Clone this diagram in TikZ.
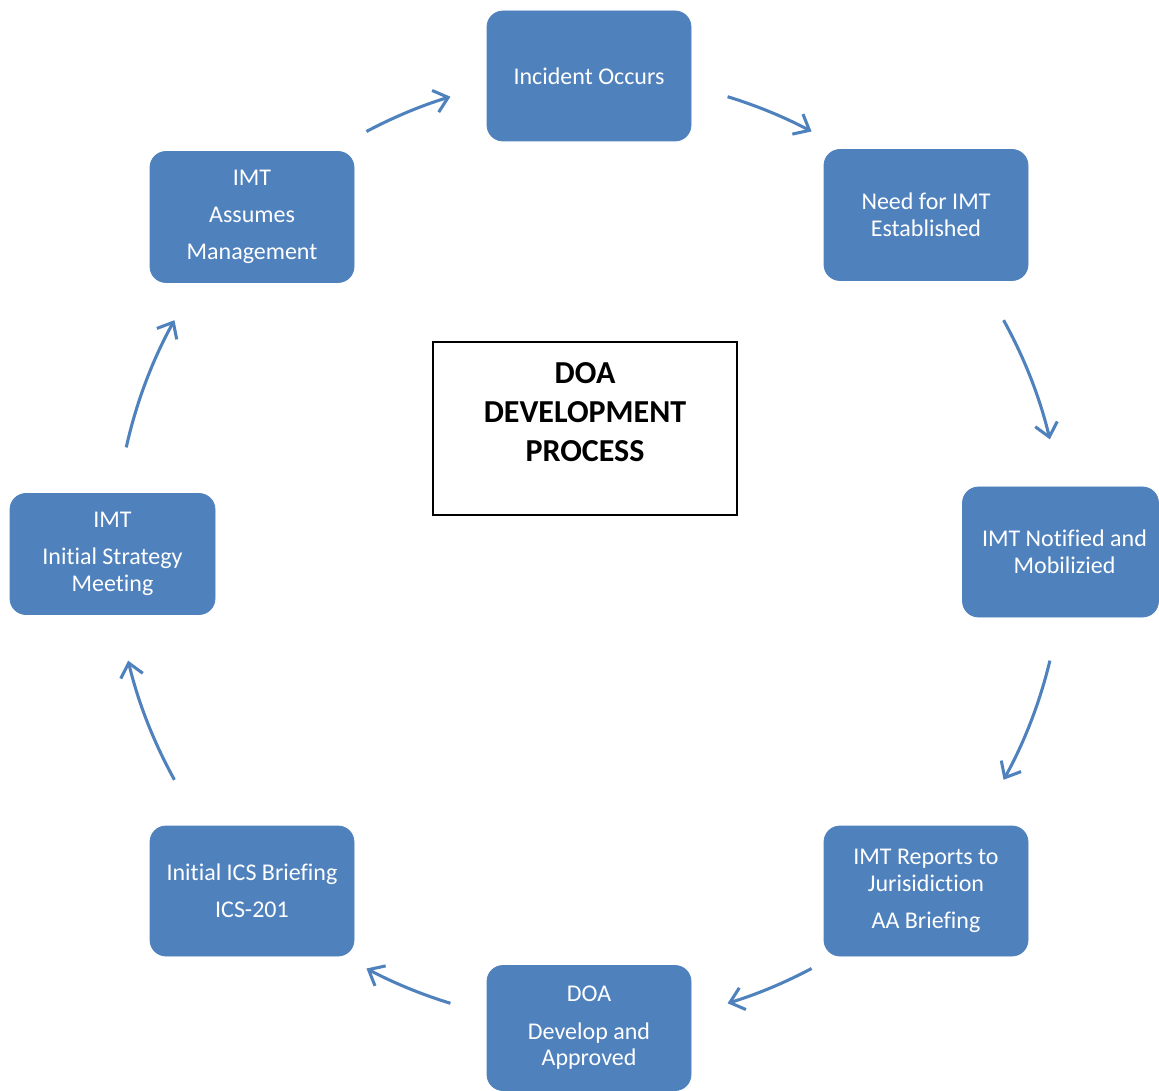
\documentclass[tikz,border=0pt]{standalone}
\usepackage{fontspec}
\setmainfont{Carlito}[Ligatures=CommonOff]
\usetikzlibrary{arrows.meta}
\definecolor{boxblue}{HTML}{4F81BD}
\begin{document}
\begin{tikzpicture}[x=0.75pt,y=0.75pt,
  procbox/.style={draw=boxblue,fill=boxblue,rounded corners=12pt,text=white,
    align=center,font=\fontsize{18pt}{20pt}\selectfont,inner sep=0pt,line width=0.6pt},
  titlebox/.style={draw=black,line width=1.1pt,fill=white,inner sep=0pt},
  titletext/.style={align=center,font=\fontsize{24pt}{29.25pt}\selectfont\bfseries,inner sep=0pt},
  cyclearrow/.style={draw=boxblue,line width=2.3pt,-{Straight Barb[length=10pt,width=17pt]}}]
\useasboundingbox (0,0) rectangle (1159,1090);

% process boxes
\node[procbox,minimum width=153pt,minimum height=97.5pt] (b1) at (589,1014) {Incident Occurs};
\node[procbox,minimum width=153pt,minimum height=98.25pt] (b2) at (926,875) {Need for IMT\\Established};
\node[procbox,minimum width=147pt,minimum height=97.5pt] (b3) at (1060.5,538) {\hspace*{6pt}IMT Notif\kern0pt ied and\\\hspace*{6pt}Mobilizied};
\node[procbox,minimum width=153pt,minimum height=97.5pt] (b4) at (926,199) {IMT Reports to\\Jurisidiction\\[8pt]AA Brief\kern0pt ing};
\node[procbox,minimum width=153pt,minimum height=93.75pt] (b5) at (589,62) {DOA\\[8pt]Develop and\\Approved};
\node[procbox,minimum width=153pt,minimum height=97.5pt] (b6) at (252,199) {Initial ICS Brief\kern0pt ing\\[8pt]ICS-201};
\node[procbox,minimum width=153.75pt,minimum height=90.75pt] (b7) at (112.5,536) {IMT\\[8pt]Initial Strategy\\Meeting};
\node[procbox,minimum width=153pt,minimum height=98.25pt] (b8) at (252,873) {IMT\\[8pt]Assumes\\[8pt]Management};

% title
\node[titlebox,minimum width=228pt,minimum height=129.75pt] (tb) at (585,661.5) {};
\node[titletext] (tt) at (585,678) {DOA\\DEVELOPMENT\\PROCESS};

% cycle arrows
\coordinate (C) at (589,540);
\coordinate (s1) at ([shift={(118:355.5pt)}]C);
\coordinate (s2) at ([shift={(73:355.5pt)}]C);
\coordinate (s3) at ([shift={(29:355.5pt)}]C);
\coordinate (s4) at ([shift={(-13.5:355.5pt)}]C);
\coordinate (s5) at ([shift={(-62:355.5pt)}]C);
\coordinate (s6) at ([shift={(-107:355.5pt)}]C);
\coordinate (s7) at ([shift={(209:355.5pt)}]C);
\coordinate (s8) at ([shift={(167.5:355.5pt)}]C);
\draw[cyclearrow] (s1) arc[start angle=118,end angle=107,radius=355.5pt];
\draw[cyclearrow] (s2) arc[start angle=73,end angle=62,radius=355.5pt];
\draw[cyclearrow] (s3) arc[start angle=29,end angle=13.5,radius=355.5pt];
\draw[cyclearrow] (s4) arc[start angle=-13.5,end angle=-29,radius=355.5pt];
\draw[cyclearrow] (s5) arc[start angle=-62,end angle=-73,radius=355.5pt];
\draw[cyclearrow] (s6) arc[start angle=-107,end angle=-118,radius=355.5pt];
\draw[cyclearrow] (s7) arc[start angle=209,end angle=193.5,radius=355.5pt];
\draw[cyclearrow] (s8) arc[start angle=167.5,end angle=151,radius=355.5pt];
\end{tikzpicture}
\end{document}
